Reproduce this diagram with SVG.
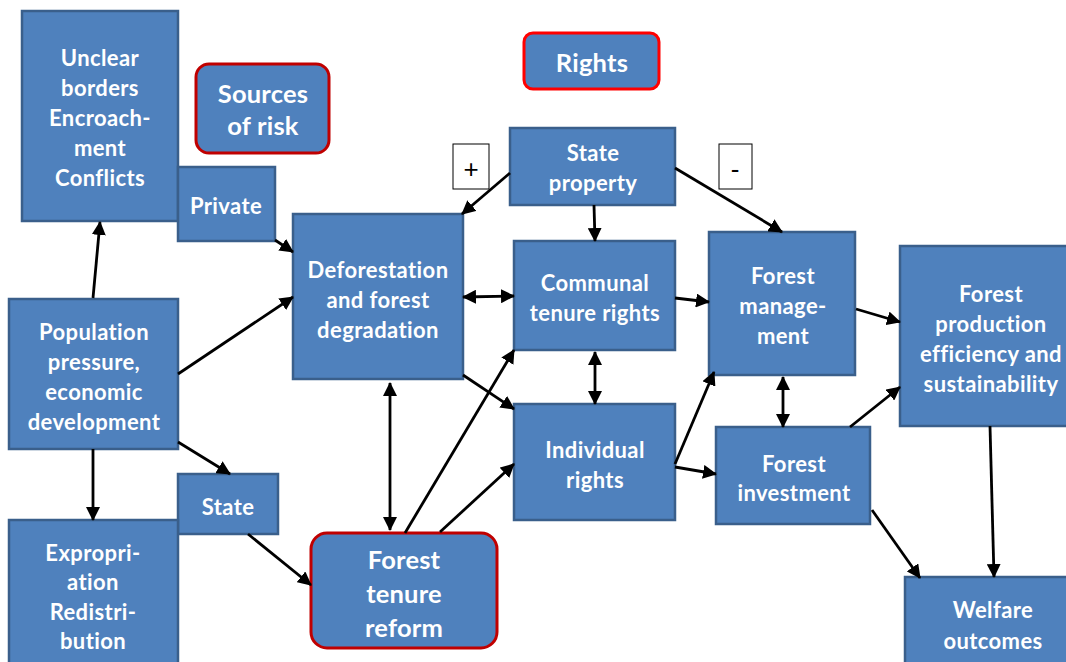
<svg xmlns="http://www.w3.org/2000/svg" width="1066" height="662" viewBox="0 0 1066 662">
<defs>
<marker id="ah" viewBox="0 0 14 14" refX="13" refY="7" markerWidth="14" markerHeight="14" markerUnits="userSpaceOnUse" orient="auto-start-reverse">
<path d="M0,0 L14,7 L0,14 z" fill="#000"/>
</marker>
<style>
.n{fill:#4F81BD;stroke:#3A5F8B;stroke-width:2.5}
.r1{fill:#4F81BD;stroke:#C00000;stroke-width:3}
.r2{fill:#4F81BD;stroke:#FF0000;stroke-width:3}
.t{font-family:Lato,"Open Sans",sans-serif;font-weight:700;fill:#fff;text-anchor:middle;font-size:22px;letter-spacing:0.4px}
.tb{font-size:25.5px;letter-spacing:0.2px}
.sg{fill:#fff;stroke:#000;stroke-width:1}
.sgt{font-family:"Liberation Sans",sans-serif;font-size:26px;fill:#000;text-anchor:middle}
.c line{stroke:#000;stroke-width:2.8;marker-end:url(#ah)}
.c line.d{marker-start:url(#ah)}
</style>
</defs>
<g id="unclear"><rect class="n" x="22" y="11" width="156" height="210"/>
<text class="t"><tspan x="100" y="66">Unclear</tspan><tspan x="100" y="96">borders</tspan><tspan x="100" y="126">Encroach-</tspan><tspan x="100" y="156">ment</tspan><tspan x="100" y="186">Conflicts</tspan></text></g>
<g id="sources"><rect class="r1" x="196" y="64" width="133" height="89" rx="13"/>
<text class="t tb"><tspan x="263" y="103">Sources</tspan><tspan x="263" y="135">of risk</tspan></text></g>
<g id="private"><rect class="n" x="178" y="167" width="97" height="74"/>
<text class="t"><tspan x="226" y="214">Private</tspan></text></g>
<g id="rights"><rect class="r2" x="524" y="33" width="135" height="56" rx="9"/>
<text class="t tb"><tspan x="592" y="72">Rights</tspan></text></g>
<g id="stateprop"><rect class="n" x="510" y="128" width="165" height="77"/>
<text class="t"><tspan x="593" y="161">State</tspan><tspan x="593" y="191">property</tspan></text></g>
<g id="plus"><rect class="sg" x="453" y="144" width="36" height="45"/><text class="sgt" x="471" y="178">+</text></g>
<g id="minus"><rect class="sg" x="719" y="144" width="33" height="45"/><text class="sgt" x="735" y="178">-</text></g>
<g id="defor"><rect class="n" x="293" y="214" width="170" height="165"/>
<text class="t"><tspan x="378" y="278">Deforestation</tspan><tspan x="378" y="308">and forest</tspan><tspan x="378" y="338">degradation</tspan></text></g>
<g id="communal"><rect class="n" x="514" y="241" width="161" height="109"/>
<text class="t"><tspan x="595" y="291">Communal</tspan><tspan x="595" y="321">tenure rights</tspan></text></g>
<g id="individual"><rect class="n" x="514" y="404" width="161" height="116"/>
<text class="t"><tspan x="595" y="458">Individual</tspan><tspan x="595" y="488">rights</tspan></text></g>
<g id="mgmt"><rect class="n" x="709" y="232" width="146" height="143"/>
<text class="t"><tspan x="783" y="284">Forest</tspan><tspan x="783" y="314">manage-</tspan><tspan x="783" y="344">ment</tspan></text></g>
<g id="production"><rect class="n" x="900" y="246" width="170" height="180"/>
<text class="t"><tspan x="991" y="302">Forest</tspan><tspan x="991" y="332">production</tspan><tspan x="991" y="362">efficiency and</tspan><tspan x="991" y="392">sustainability</tspan></text></g>
<g id="investment"><rect class="n" x="716" y="427" width="154" height="97"/>
<text class="t"><tspan x="794" y="472">Forest</tspan><tspan x="794" y="501">investment</tspan></text></g>
<g id="welfare"><rect class="n" x="905" y="577" width="165" height="90"/>
<text class="t"><tspan x="993" y="618">Welfare</tspan><tspan x="993" y="649">outcomes</tspan></text></g>
<g id="population"><rect class="n" x="9" y="299" width="169" height="150"/>
<text class="t"><tspan x="94" y="340">Population</tspan><tspan x="94" y="370">pressure,</tspan><tspan x="94" y="400">economic</tspan><tspan x="94" y="430">development</tspan></text></g>
<g id="state"><rect class="n" x="178" y="474" width="100" height="60"/>
<text class="t"><tspan x="228" y="515">State</tspan></text></g>
<g id="expro"><rect class="n" x="9" y="520" width="169" height="150"/>
<text class="t"><tspan x="93" y="561">Expropri-</tspan><tspan x="93" y="590">ation</tspan><tspan x="93" y="620">Redistri-</tspan><tspan x="93" y="649">bution</tspan></text></g>
<g id="reform"><rect class="r1" x="311" y="533" width="186" height="115" rx="16"/>
<text class="t tb"><tspan x="404" y="569">Forest</tspan><tspan x="404" y="603">tenure</tspan><tspan x="404" y="637">reform</tspan></text></g>
<g class="c" id="connectors">
<line x1="93" y1="298" x2="100" y2="222"/>
<line x1="178" y1="374" x2="293" y2="297"/>
<line x1="178" y1="442" x2="230" y2="474"/>
<line x1="93" y1="449" x2="93" y2="520"/>
<line x1="275" y1="240" x2="293" y2="252"/>
<line x1="248" y1="534" x2="311" y2="585"/>
<line x1="510" y1="173" x2="462" y2="214"/>
<line x1="594" y1="205" x2="595" y2="241"/>
<line x1="675" y1="168" x2="782" y2="232"/>
<line class="d" x1="463" y1="297" x2="514" y2="296"/>
<line x1="463" y1="375" x2="514" y2="409"/>
<line class="d" x1="390" y1="383" x2="390" y2="530"/>
<line x1="405" y1="533" x2="514" y2="350"/>
<line x1="440" y1="532" x2="514" y2="464"/>
<line class="d" x1="595" y1="352" x2="595" y2="404"/>
<line x1="675" y1="298" x2="709" y2="302"/>
<line x1="675" y1="464" x2="714" y2="372"/>
<line x1="675" y1="467" x2="716" y2="474"/>
<line class="d" x1="783" y1="377" x2="783" y2="427"/>
<line x1="856" y1="309" x2="900" y2="322"/>
<line x1="850" y1="427" x2="900" y2="387"/>
<line x1="872" y1="510" x2="920" y2="578"/>
<line x1="990" y1="426" x2="994" y2="577"/>
</g>
</svg>
